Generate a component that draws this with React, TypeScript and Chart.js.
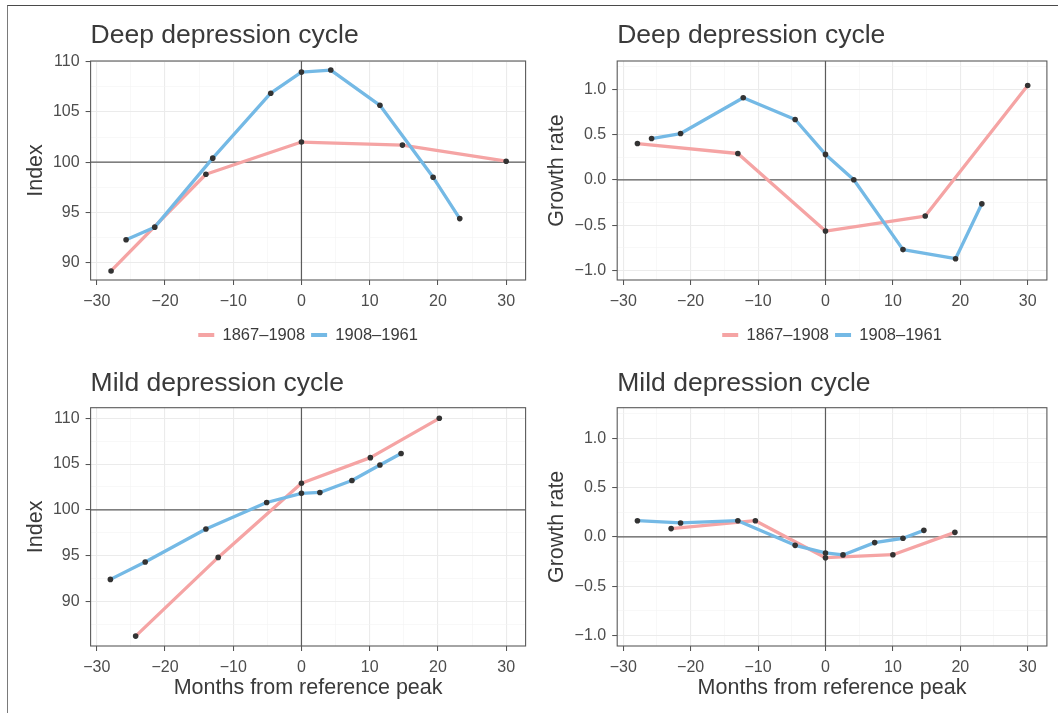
import React, { useEffect, useRef } from 'react';
import { Chart, registerables } from 'chart.js';

Chart.register(...registerables);

const FONT = '"Liberation Sans", Arial, Helvetica, sans-serif';
Chart.defaults.font.family = FONT;

// ---------- series ----------
const seriesNames = ['1867–1908', '1908–1961'];
const lineColors = ['#F5A4A4', '#74B9E5'];
const pointColor = '#333333';

// ---------- tick values / labels ----------
const monthTicks = [-30, -20, -10, 0, 10, 20, 30];
const monthTickLabels = ['−30', '−20', '−10', '0', '10', '20', '30'];
const monthMinorTicks = [-25, -15, -5, 5, 15, 25];
const monthMin = -30.9;
const monthMax = 32.85;
const monthReference = 0;

const indexTicks = [90, 95, 100, 105, 110];
const indexTickLabels = ['90', '95', '100', '105', '110'];
const indexMinorTicks = [87.5, 92.5, 97.5, 102.5, 107.5];
const indexReference = 100;

const growthTicks = [-1, -0.5, 0, 0.5, 1];
const growthTickLabels = ['−1.0', '−0.5', '0.0', '0.5', '1.0'];
const growthMinorTicks = [-0.75, -0.25, 0.25, 0.75, 1.25];
const growthReference = 0;
const growthMin = -1.105;
const growthMax = 1.31;

// ---------- Deep depression cycle: index ----------
const deepIndex1867Months = [-27.9, -14.0, 0, 14.8, 30];
const deepIndex1867Values = [89.2, 98.8, 102.0, 101.7, 100.1];
const deepIndex1908Months = [-25.7, -21.5, -13.0, -4.5, 0, 4.3, 11.5, 19.3, 23.2];
const deepIndex1908Values = [92.3, 93.55, 100.4, 106.85, 108.95, 109.15, 105.65, 98.5, 94.4];

// ---------- Deep depression cycle: growth rate ----------
const deepGrowth1867Months = [-27.9, -13.0, 0, 14.8, 30];
const deepGrowth1867Values = [0.40, 0.29, -0.565, -0.40, 1.04];
const deepGrowth1908Months = [-25.8, -21.5, -12.2, -4.5, 0, 4.2, 11.5, 19.3, 23.2];
const deepGrowth1908Values = [0.455, 0.51, 0.905, 0.665, 0.28, 0.0, -0.77, -0.87, -0.265];

// ---------- Mild depression cycle: index ----------
const mildIndex1867Months = [-24.3, -12.2, 0, 10.1, 20.2];
const mildIndex1867Values = [86.2, 94.8, 102.9, 105.7, 110.0];
const mildIndex1908Months = [-28.0, -22.9, -14.0, -5.1, 0, 2.7, 7.4, 11.5, 14.6];
const mildIndex1908Values = [92.4, 94.3, 97.9, 100.8, 101.8, 101.9, 103.2, 104.9, 106.15];

// ---------- Mild depression cycle: growth rate ----------
const mildGrowth1867Months = [-22.9, -10.4, 0, 10.0, 19.2];
const mildGrowth1867Values = [0.085, 0.165, -0.21, -0.18, 0.047];
const mildGrowth1908Months = [-27.9, -21.5, -13.0, -4.5, 0, 2.6, 7.3, 11.5, 14.6];
const mildGrowth1908Values = [0.165, 0.142, 0.165, -0.085, -0.162, -0.182, -0.057, -0.013, 0.067];

// ---------- style constants ----------
const TITLE_SIZE = 26.5;
const AXIS_TITLE_SIZE = 21.5;
const TICK_SIZE = 16;
const LEGEND_SIZE = 16.5;
const LEGEND_PAD = 6;
const TICK_LENGTH = 5;
const TEXT_DARK = '#3a3a3a';
const TICK_TEXT = '#4d4d4d';

type PanelSpec = {
  title: string;
  yTitle: string;
  xTitle?: string;
  legend: boolean;
  months: number[][];
  values: number[][];
  yTicks: number[];
  yTickLabels: string[];
  yMinor: number[];
  yMin: number;
  yMax: number;
  yRef: number;
  box: { left: number; top: number; width: number; height: number };
  area: { left: number; right: number; top: number; bottom: number };
  titleMiddle: number;
  yTitleCenter: number;
  legendMiddle?: number;
  xTitleMiddle?: number;
};

const panels: PanelSpec[] = [
  {
    title: 'Deep depression cycle', yTitle: 'Index', legend: true,
    months: [deepIndex1867Months, deepIndex1908Months],
    values: [deepIndex1867Values, deepIndex1908Values],
    yTicks: indexTicks, yTickLabels: indexTickLabels, yMinor: indexMinorTicks,
    yMin: 88.3, yMax: 110.05, yRef: indexReference,
    box: { left: 0, top: 0, width: 529, height: 362 },
    area: { left: 90.6, right: 525.6, top: 61, bottom: 280 },
    titleMiddle: 36.1, yTitleCenter: 35.8, legendMiddle: 335.0,
  },
  {
    title: 'Deep depression cycle', yTitle: 'Growth rate', legend: true,
    months: [deepGrowth1867Months, deepGrowth1908Months],
    values: [deepGrowth1867Values, deepGrowth1908Values],
    yTicks: growthTicks, yTickLabels: growthTickLabels, yMinor: growthMinorTicks,
    yMin: growthMin, yMax: growthMax, yRef: growthReference,
    box: { left: 529, top: 0, width: 529, height: 362 },
    area: { left: 88.2, right: 517.9, top: 61, bottom: 280 },
    titleMiddle: 36.1, yTitleCenter: 27.7, legendMiddle: 335.0,
  },
  {
    title: 'Mild depression cycle', yTitle: 'Index', xTitle: 'Months from reference peak', legend: false,
    months: [mildIndex1867Months, mildIndex1908Months],
    values: [mildIndex1867Values, mildIndex1908Values],
    yTicks: indexTicks, yTickLabels: indexTickLabels, yMinor: indexMinorTicks,
    yMin: 85.12, yMax: 111.16, yRef: indexReference,
    box: { left: 0, top: 356, width: 529, height: 357 },
    area: { left: 90.6, right: 525.6, top: 51.7, bottom: 290 },
    titleMiddle: 28.1, yTitleCenter: 35.8, xTitleMiddle: 332.3,
  },
  {
    title: 'Mild depression cycle', yTitle: 'Growth rate', xTitle: 'Months from reference peak', legend: false,
    months: [mildGrowth1867Months, mildGrowth1908Months],
    values: [mildGrowth1867Values, mildGrowth1908Values],
    yTicks: growthTicks, yTickLabels: growthTickLabels, yMinor: growthMinorTicks,
    yMin: growthMin, yMax: growthMax, yRef: growthReference,
    box: { left: 529, top: 356, width: 529, height: 357 },
    area: { left: 88.2, right: 517.9, top: 51.7, bottom: 290 },
    titleMiddle: 28.1, yTitleCenter: 27.7, xTitleMiddle: 332.3,
  },
];

function gridOptions(major: number[]) {
  const isMajor = (c: any) => c.tick && major.indexOf(c.tick.value) !== -1;
  return {
    color: (c: any) => (isMajor(c) ? '#EBEBEB' : '#F4F4F4'),
    lineWidth: (c: any) => (isMajor(c) ? 1.1 : 0.6),
    tickColor: (c: any) => (isMajor(c) ? '#4d4d4d' : 'rgba(0,0,0,0)'),
    tickWidth: 1,
    tickLength: TICK_LENGTH,
    drawTicks: true,
  };
}

function Panel({ spec }: { spec: PanelSpec }) {
  const ref = useRef<HTMLCanvasElement>(null);

  useEffect(() => {
    const s = spec;
    const canvas = ref.current;
    if (!canvas) return;

    const yTitleHalf = (AXIS_TITLE_SIZE * 1.2) / 2;
    const padLeft = s.yTitleCenter - yTitleHalf;
    const yAxisWidth = s.area.left - padLeft;
    const padRight = s.box.width - s.area.right;
    const padTop = s.titleMiddle - (TITLE_SIZE * 1.2) / 2;
    const titleGap = s.area.top - padTop - TITLE_SIZE * 1.2;
    let xAxisHeight: number;
    let padBottom: number;
    if (s.legend) {
      xAxisHeight = (s.legendMiddle as number) - LEGEND_PAD - LEGEND_SIZE / 2 - s.area.bottom;
      const legendHeight = LEGEND_SIZE + LEGEND_PAD + 10;
      padBottom = s.box.height - s.area.bottom - xAxisHeight - legendHeight;
    } else {
      xAxisHeight = (s.xTitleMiddle as number) + yTitleHalf - s.area.bottom;
      padBottom = s.box.height - s.area.bottom - xAxisHeight;
    }

    const lineSets = s.months.map((ms, i) => ({
      label: seriesNames[i],
      data: ms.map((m, j) => ({ x: m, y: s.values[i][j] })),
      showLine: true,
      borderColor: lineColors[i],
      backgroundColor: lineColors[i],
      borderWidth: 3.3,
      borderJoinStyle: 'round',
      borderCapStyle: 'butt',
      pointRadius: 0,
      pointHoverRadius: 0,
      tension: 0,
      order: 2 - i,
    }));
    const pointSets = s.months.map((ms, i) => ({
      label: seriesNames[i] + ' points',
      data: ms.map((m, j) => ({ x: m, y: s.values[i][j] })),
      showLine: false,
      pointRadius: 2.8,
      pointHoverRadius: 2.8,
      pointBackgroundColor: pointColor,
      pointBorderWidth: 0,
      order: 0,
    }));

    const decor = {
      id: 'panelDecor',
      beforeDatasetsDraw(chart: any) {
        const { ctx, chartArea, scales } = chart;
        ctx.save();
        ctx.strokeStyle = '#5c5c5c';
        ctx.lineWidth = 1.2;
        const px = scales.x.getPixelForValue(monthReference);
        const py = scales.y.getPixelForValue(s.yRef);
        ctx.beginPath();
        ctx.moveTo(px, chartArea.top);
        ctx.lineTo(px, chartArea.bottom);
        ctx.moveTo(chartArea.left, py);
        ctx.lineTo(chartArea.right, py);
        ctx.stroke();
        ctx.restore();
      },
      afterDatasetsDraw(chart: any) {
        const { ctx, chartArea } = chart;
        ctx.save();
        ctx.strokeStyle = '#5a5a5a';
        ctx.lineWidth = 1.1;
        ctx.strokeRect(chartArea.left, chartArea.top, chartArea.right - chartArea.left, chartArea.bottom - chartArea.top);
        ctx.restore();
      },
    };

    const xAll = [...monthTicks, ...monthMinorTicks]
      .filter((v) => v >= monthMin && v <= monthMax)
      .sort((a, b) => a - b);
    const yAll = [...s.yTicks, ...s.yMinor]
      .filter((v) => v >= s.yMin && v <= s.yMax)
      .sort((a, b) => a - b);

    const chart = new Chart(canvas, {
      type: 'scatter',
      data: { datasets: [...lineSets, ...pointSets] as any },
      plugins: [decor],
      options: {
        responsive: false,
        animation: false,
        events: [],
        layout: { padding: { left: padLeft, right: padRight, top: padTop, bottom: padBottom } },
        scales: {
          x: {
            type: 'linear',
            min: monthMin,
            max: monthMax,
            afterBuildTicks: (scale: any) => {
              scale.ticks = xAll.map((v) => ({ value: v }));
            },
            afterFit: (scale: any) => {
              scale.height = xAxisHeight;
            },
            ticks: {
              autoSkip: false,
              maxRotation: 0,
              minRotation: 0,
              padding: 7,
              color: TICK_TEXT,
              font: { size: TICK_SIZE, family: FONT },
              callback: (v: any) => {
                const k = monthTicks.indexOf(Number(v));
                return k === -1 ? '' : monthTickLabels[k];
              },
            },
            grid: gridOptions(monthTicks) as any,
            border: { display: false },
            title: {
              display: !!s.xTitle,
              text: s.xTitle || '',
              color: TEXT_DARK,
              padding: 0,
              font: { size: AXIS_TITLE_SIZE, family: FONT },
            },
          },
          y: {
            type: 'linear',
            min: s.yMin,
            max: s.yMax,
            afterBuildTicks: (scale: any) => {
              scale.ticks = yAll.map((v) => ({ value: v }));
            },
            afterFit: (scale: any) => {
              scale.width = yAxisWidth;
            },
            ticks: {
              autoSkip: false,
              padding: 6,
              color: TICK_TEXT,
              font: { size: TICK_SIZE, family: FONT },
              callback: (v: any) => {
                const k = s.yTicks.indexOf(Number(v));
                return k === -1 ? '' : s.yTickLabels[k];
              },
            },
            grid: gridOptions(s.yTicks) as any,
            border: { display: false },
            title: {
              display: true,
              text: s.yTitle,
              color: TEXT_DARK,
              padding: 0,
              font: { size: AXIS_TITLE_SIZE, family: FONT },
            },
          },
        },
        plugins: {
          tooltip: { enabled: false },
          title: {
            display: true,
            text: s.title,
            align: 'start',
            fullSize: false,
            color: TEXT_DARK,
            font: { size: TITLE_SIZE, family: FONT, weight: 'normal' },
            padding: { top: 0, bottom: titleGap },
          },
          legend: {
            display: s.legend,
            position: 'bottom',
            fullSize: false,
            labels: {
              boxWidth: 16,
              boxHeight: 4,
              padding: LEGEND_PAD,
              color: TEXT_DARK,
              font: { size: LEGEND_SIZE, family: FONT },
              generateLabels: () =>
                seriesNames.map((name, i) => ({
                  text: name,
                  fillStyle: lineColors[i],
                  strokeStyle: lineColors[i],
                  lineWidth: 0,
                  hidden: false,
                  datasetIndex: i,
                  fontColor: TEXT_DARK,
                })),
            },
          },
        },
      } as any,
    });
    return () => chart.destroy();
  }, [spec]);

  return (
    <canvas
      ref={ref}
      width={spec.box.width}
      height={spec.box.height}
      style={{
        position: 'absolute',
        left: spec.box.left,
        top: spec.box.top,
        width: spec.box.width,
        height: spec.box.height,
      }}
    />
  );
}

export default function App() {
  return (
    <div
      style={{
        position: 'fixed',
        left: 0,
        top: 0,
        width: 1058,
        height: 713,
        overflow: 'hidden',
        background: '#ffffff',
      }}
    >
      <div
        style={{
          position: 'absolute',
          left: 7,
          top: 5,
          width: 1200,
          height: 900,
          borderTop: '1.3px solid #4a4a4a',
          borderLeft: '1.6px solid #7a7a7a',
        }}
      />
      {panels.map((p, i) => (
        <Panel key={i} spec={p} />
      ))}
    </div>
  );
}
